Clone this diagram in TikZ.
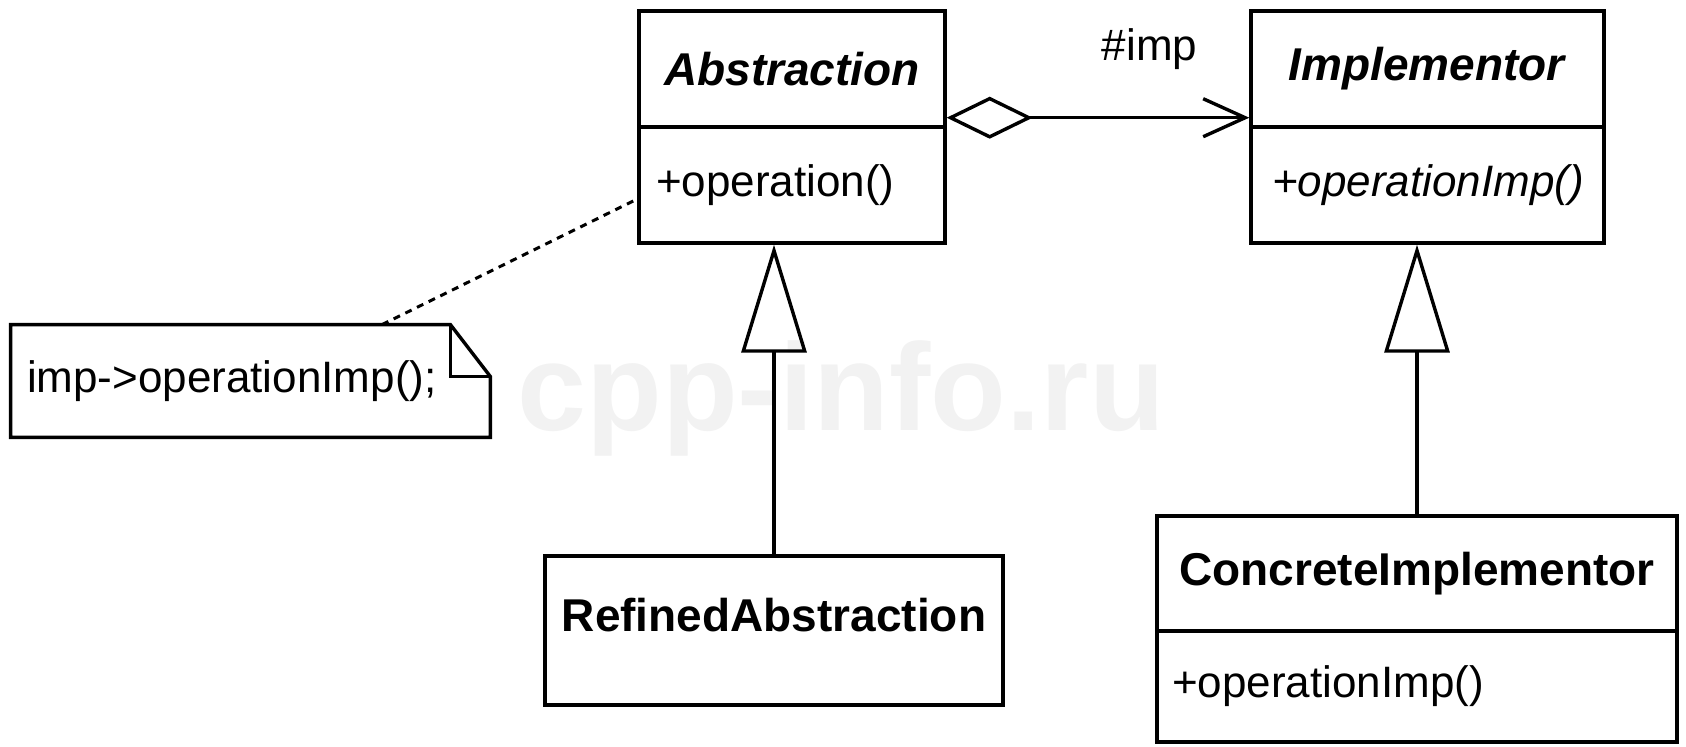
\documentclass[tikz,border=0pt]{standalone}
\usepackage{fontspec}
\setmainfont{Liberation Sans}
\usetikzlibrary{arrows.meta}
\tikzset{>=stealth}

\begin{document}
\begin{tikzpicture}[x=0.5pt,y=-0.5pt,font=\fontsize{22}{26}\selectfont,
    box/.style={draw,line width=1.7pt,inner sep=0pt},
    link/.style={line width=1.7pt}]
    \useasboundingbox (0,0) rectangle (1686,746);
    % watermark
    \node[text=black!5,font=\fontsize{62}{70}\selectfont\bfseries] (wm) at (841,398) {cpp-info.ru};

    % classes
    \node[box,minimum width=153pt,minimum height=58pt] (absname) at (792,69) {\fontsize{23}{26}\selectfont\textbf{\textit{Abstraction}}};
    \node[box,minimum height=58pt,text width=136pt,inner xsep=8.5pt,align=left] (absops) at (792,185) {+operation()};
    \node[box,minimum width=176.5pt,minimum height=58pt] (impname) at (1427.5,69) {\fontsize{23}{26}\selectfont\textbf{\textit{Implementor}}};
    \node[box,minimum height=58pt,text width=155.5pt,inner xsep=10.5pt,align=left] (impops) at (1427.5,185) {\textit{+operationImp()}};
    \node[box,minimum width=229pt,text height=37.5pt,text depth=37pt] (refined) at (774,630.5) {\fontsize{23}{26}\selectfont\textbf{RefinedAbstraction}};
    \node[box,minimum width=260pt,minimum height=57.5pt] (conname) at (1417,573.5) {\fontsize{23}{26}\selectfont\textbf{ConcreteImplementor}};
    \node[box,minimum height=55.5pt,text width=245pt,inner xsep=7.5pt,align=left] (conops) at (1417,686.5) {+operationImp()};

    % note
    \node[inner sep=0pt,inner xsep=8pt,minimum height=56pt,text width=223.5pt,align=left] (note) at (250.5,381) {imp->operationImp();};
    \draw[link] (note.north west) -- ([xshift=-20pt]note.north east) -- ([yshift=-26pt]note.north east)
        -- (note.south east) -- (note.south west) -- cycle;
    \draw[link] ([xshift=-20pt]note.north east) |- ([yshift=-26pt]note.north east);
    \draw[line width=1.5pt,dash pattern=on 3.5pt off 3pt] ([xshift=65.75pt]note.north) -- ([yshift=-7pt]absops.west);

    % aggregation
    \draw[link,{Diamond[open,length=43pt,width=21pt]}-{Straight Barb[length=21pt,width=19pt]}]
        ([yshift=5.5pt]absname.south east) -- node[pos=0.67,above=23pt,inner sep=0pt] (implbl) {\#imp} ([yshift=5.5pt]impname.south west);

    % generalization
    \draw[link,-{Triangle[open,length=54pt,width=32.5pt]}] (refined.north) -- (refined.north |- absops.south);
    \draw[link,-{Triangle[open,length=54pt,width=32.5pt]}] (conname.north) -- (conname.north |- impops.south);
\end{tikzpicture}
\end{document}
